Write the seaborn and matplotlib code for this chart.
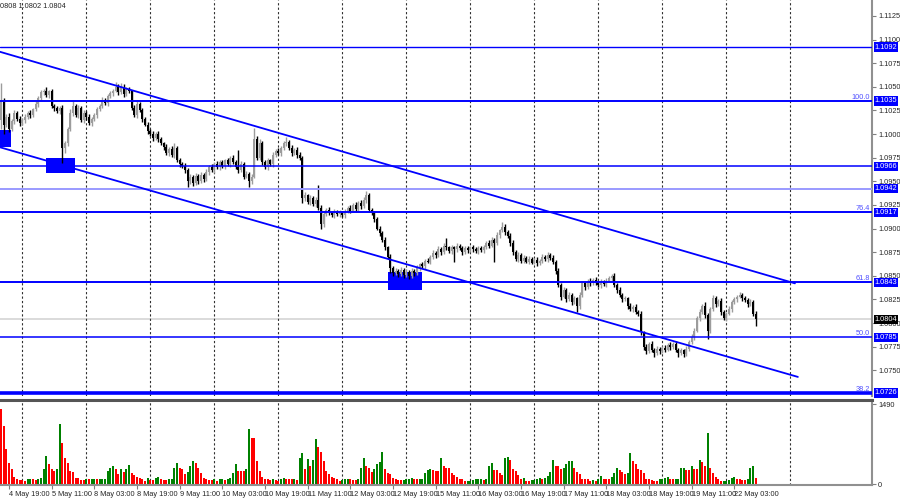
import numpy as np
import pandas as pd
import seaborn as sns
import matplotlib.pyplot as plt
from matplotlib.patches import Rectangle
from matplotlib.transforms import blended_transform_factory

# EURUSD H1, 4 May 16:00 .. 22 May 11:00 (one value per hourly bar)
first_open = 1.1015
closes = [
    1.1035, 1.1010, 1.1018, 1.1005, 1.1014, 1.1022, 1.1016, 1.1012,
    1.1015, 1.1018, 1.1022, 1.1020, 1.1026, 1.1032, 1.1038, 1.1044,
    1.1046, 1.1041, 1.1045, 1.1030, 1.1027, 1.1024, 1.1028, 1.0985,
    1.0990, 1.1005, 1.1022, 1.1030, 1.1020, 1.1028, 1.1015, 1.1022,
    1.1018, 1.1012, 1.1016, 1.1020, 1.1026, 1.1030, 1.1036, 1.1033,
    1.1040, 1.1043, 1.1046, 1.1050, 1.1044, 1.1050, 1.1042, 1.1048,
    1.1045, 1.1028, 1.1020, 1.1032, 1.1025, 1.1016, 1.1010, 1.1003,
    1.1000, 1.0996, 1.1000, 1.0995, 1.0990, 1.0986, 1.0980, 1.0984,
    1.0978, 1.0985, 1.0972, 1.0968, 1.0966, 1.0962, 1.0950, 1.0955,
    1.0948, 1.0956, 1.0950, 1.0957, 1.0952, 1.0960, 1.0965, 1.0962,
    1.0968, 1.0965, 1.0970, 1.0966, 1.0972, 1.0968, 1.0975, 1.0970,
    1.0965, 1.0962, 1.0968, 1.0955, 1.0958, 1.0950, 1.0955, 1.0995,
    1.0975, 1.0990, 1.0970, 1.0965, 1.0972, 1.0968, 1.0978, 1.0982,
    1.0980, 1.0985, 1.0990, 1.0992, 1.0985, 1.0980, 1.0983, 1.0978,
    1.0975, 1.0932, 1.0935, 1.0928, 1.0932, 1.0926, 1.0930, 1.0922,
    1.0905, 1.0915, 1.0920, 1.0917, 1.0914, 1.0918, 1.0915, 1.0917,
    1.0914, 1.0918, 1.0922, 1.0919, 1.0925, 1.0921, 1.0927, 1.0924,
    1.0930, 1.0935, 1.0920, 1.0916, 1.0910, 1.0900, 1.0895, 1.0888,
    1.0880, 1.0870, 1.0858, 1.0853, 1.0855, 1.0852, 1.0856, 1.0851,
    1.0854, 1.0850, 1.0855, 1.0853, 1.0858, 1.0862, 1.0860, 1.0866,
    1.0865, 1.0870, 1.0874, 1.0872, 1.0878, 1.0875, 1.0882, 1.0880,
    1.0876, 1.0880, 1.0878, 1.0882, 1.0879, 1.0875, 1.0879, 1.0877,
    1.0880, 1.0878, 1.0876, 1.0879, 1.0877, 1.0880, 1.0885, 1.0882,
    1.0888, 1.0885, 1.0893, 1.0898, 1.0902, 1.0896, 1.0892, 1.0885,
    1.0875, 1.0868, 1.0872, 1.0866, 1.0869, 1.0865, 1.0868, 1.0864,
    1.0867, 1.0863, 1.0866, 1.0870, 1.0868, 1.0872, 1.0869, 1.0865,
    1.0855, 1.0840, 1.0828, 1.0835, 1.0825, 1.0830, 1.0822, 1.0826,
    1.0818, 1.0830, 1.0842, 1.0838, 1.0845, 1.0842, 1.0846, 1.0843,
    1.0840, 1.0844, 1.0841, 1.0845, 1.0848, 1.0850, 1.0840, 1.0835,
    1.0830, 1.0825, 1.0826, 1.0818, 1.0815, 1.0817, 1.0812, 1.0810,
    1.0790, 1.0775, 1.0770, 1.0778, 1.0772, 1.0768, 1.0773, 1.0770,
    1.0774, 1.0772, 1.0777, 1.0775, 1.0778, 1.0772, 1.0768, 1.0771,
    1.0767, 1.0773, 1.0780, 1.0785, 1.0792, 1.0805, 1.0812, 1.0818,
    1.0808, 1.0792, 1.0815, 1.0826, 1.0820, 1.0823, 1.0812, 1.0805,
    1.0810, 1.0815, 1.0822, 1.0825, 1.0828, 1.0830, 1.0826, 1.0824,
    1.0820, 1.0822, 1.0810, 1.0804,
]
# upper / lower shadows in pips beyond the candle body
wick_up = [
    19, 3, 3, 4, 2, 3, 2, 3,   2, 3, 2, 3, 2, 3, 2, 3,
    2, 4, 2, 3, 2, 3, 2, 3,    3, 2, 4, 5, 2, 3, 2, 3,
    2, 3, 2, 2, 3, 2, 3, 2,    2, 3, 2, 5, 3, 4, 3, 2,
    2, 2, 3, 4, 2, 3, 2, 3,    2, 3, 2, 3, 2, 2, 3, 2,
    3, 5, 2, 3, 2, 3, 2, 3,    2, 3, 2, 3, 2, 3, 2, 3,
    2, 3, 2, 3, 2, 3, 2, 3,    3, 18, 3, 2, 3, 2, 3, 11,
    3, 5, 3, 2, 3, 2, 3, 2,    3, 2, 3, 5, 2, 3, 2, 3,
    3, 2, 4, 2, 3, 2, 3, 16,   3, 3, 2, 3, 2, 3, 2, 3,
    2, 3, 2, 3, 2, 3, 2, 3,    3, 5, 3, 2, 3, 2, 3, 2,
    3, 2, 3, 2, 3, 2, 3, 2,    3, 2, 3, 2, 3, 2, 3, 2,
    3, 2, 3, 2, 3, 2, 3, 8,    2, 3, 2, 3, 2, 3, 2, 3,
    2, 3, 2, 3, 2, 3, 2, 3,    3, 2, 3, 2, 5, 3, 2, 3,
    3, 2, 3, 2, 3, 2, 3, 2,    2, 3, 2, 3, 2, 3, 2, 3,
    2, 3, 2, 3, 2, 3, 2, 3,    2, 3, 2, 3, 2, 3, 2, 3,
    2, 3, 2, 3, 2, 2, 3, 2,    3, 2, 3, 2, 3, 2, 3, 2,
    3, 2, 3, 2, 3, 2, 3, 2,    2, 3, 2, 3, 2, 3, 2, 3,
    2, 3, 2, 3, 3, 2, 3, 2,    4, 3, 2, 4, 3, 2, 3, 2,
    2, 3, 2, 3, 2, 3, 2, 3,    2, 3, 2, 3,
]
wick_dn = [
    10, 10, 3, 3, 2, 3, 2, 3,  2, 3, 2, 3, 2, 2, 3, 2,
    3, 2, 3, 2, 3, 2, 3, 16,   5, 3, 2, 3, 2, 3, 2, 3,
    3, 2, 3, 2, 3, 2, 3, 2,    3, 2, 3, 2, 3, 2, 3, 2,
    2, 3, 2, 3, 2, 3, 2, 3,    2, 3, 2, 3, 2, 3, 2, 3,
    2, 3, 2, 3, 2, 3, 6, 3,    3, 2, 3, 2, 3, 2, 3, 2,
    3, 2, 3, 2, 3, 2, 3, 2,    2, 3, 2, 3, 2, 6, 3, 2,
    3, 2, 3, 2, 3, 2, 3, 2,    2, 3, 2, 3, 2, 3, 2, 3,
    2, 5, 3, 2, 3, 2, 3, 2,    5, 3, 2, 3, 2, 3, 2, 3,
    2, 3, 2, 3, 2, 3, 2, 3,    2, 3, 3, 2, 3, 2, 3, 2,
    3, 2, 5, 3, 2, 3, 2, 3,    2, 3, 2, 3, 2, 3, 2, 3,
    2, 3, 2, 3, 2, 3, 2, 3,    2, 3, 13, 3, 2, 3, 2, 3,
    2, 3, 2, 3, 2, 3, 2, 3,    2, 20, 2, 3, 2, 3, 2, 3,
    3, 2, 3, 2, 3, 2, 3, 2,    2, 3, 2, 3, 2, 3, 2, 3,
    3, 2, 4, 2, 3, 2, 3, 2,    6, 3, 2, 3, 2, 3, 2, 3,
    2, 3, 2, 3, 2, 3, 2, 3,    2, 3, 2, 3, 2, 3, 2, 3,
    3, 4, 3, 2, 3, 4, 2, 3,    2, 3, 2, 3, 2, 3, 4, 2,
    3, 2, 3, 2, 3, 2, 3, 2,    3, 9, 3, 2, 3, 2, 3, 2,
    3, 2, 3, 2, 3, 2, 3, 2,    3, 2, 3, 7,
]
volumes = [
    1395, 1085, 650, 390, 280, 143, 105, 80,
    80, 62, 93, 105, 105, 80, 93, 118,
    280, 515, 372, 290, 248, 280, 1116, 775,
    496, 390, 248, 230, 124, 124, 80, 80,
    93, 90, 95, 98, 96, 99, 100, 104,
    248, 310, 330, 280, 186, 280, 230, 280,
    353, 217, 167, 143, 124, 105, 62, 124,
    80, 78, 124, 130, 105, 80, 78, 93,
    100, 310, 403, 310, 280, 186, 230, 330,
    434, 403, 310, 217, 124, 105, 80, 78,
    93, 62, 93, 105, 80, 105, 124, 217,
    372, 248, 246, 244, 280, 1023, 850, 850,
    434, 248, 143, 105, 93, 80, 93, 80,
    62, 105, 124, 105, 93, 93, 100, 80,
    496, 577, 290, 477, 330, 453, 837, 700,
    600, 434, 248, 186, 143, 124, 105, 62,
    80, 93, 105, 105, 80, 80, 93, 310,
    496, 330, 310, 230, 280, 372, 415, 600,
    290, 205, 186, 124, 105, 80, 80, 85,
    90, 105, 124, 105, 93, 95, 105, 217,
    267, 291, 267, 248, 240, 496, 330, 310,
    310, 205, 167, 143, 105, 93, 62, 65,
    68, 80, 93, 95, 98, 80, 105, 330,
    390, 260, 255, 205, 175, 496, 508, 446,
    291, 248, 167, 105, 110, 62, 62, 80,
    85, 105, 108, 93, 124, 155, 230, 446,
    341, 330, 291, 300, 372, 422, 425, 298,
    230, 186, 105, 93, 92, 62, 75, 62,
    93, 155, 93, 90, 88, 143, 217, 298,
    267, 230, 186, 205, 577, 434, 372, 280,
    262, 205, 105, 93, 80, 62, 60, 93,
    105, 124, 126, 93, 90, 95, 98, 298,
    310, 270, 255, 330, 290, 280, 446, 415,
    341, 950, 310, 205, 143, 105, 62, 65,
    68, 70, 124, 126, 105, 93, 80, 78,
    105, 310, 330, 124,
]

# time axis: bar index of each day start and of each date label
day_starts = [8, 32, 56, 80, 104, 128, 152, 176, 200, 224, 248, 272, 296]
label_bars = [3, 19, 35, 51, 67, 83, 99, 115, 131, 147, 163, 179, 195, 211, 227, 243, 259, 275]
label_text = ["4 May 19:00", "5 May 11:00", "8 May 03:00", "8 May 19:00", "9 May 11:00",
              "10 May 03:00", "10 May 19:00", "11 May 11:00", "12 May 03:00", "12 May 19:00",
              "15 May 11:00", "16 May 03:00", "16 May 19:00", "17 May 11:00", "18 May 03:00",
              "18 May 19:00", "19 May 11:00", "22 May 03:00"]

# horizontal levels and fibo tags
levels = [1.1092, 1.1035, 1.0966, 1.0942, 1.0917, 1.0843, 1.0785, 1.0726]
fibo_levels = [1.1035, 1.0917, 1.0843, 1.0785, 1.0726]
fibo_tags = ["100.0", "76.4", "61.8", "50.0", "38.2"]
last_price = 1.0804

# descending channel (bar index, price)
channel_top = ([-0.4, 297.7], [1.1087, 1.0842])
channel_bottom = ([-0.4, 298.8], [1.0986, 1.0743])

# blue boxes: (bar start, bar end, price low, price high)
boxes = [(-0.4, 3.7, 1.0986, 1.1004), (16.9, 27.7, 1.0959, 1.0975), (145.0, 157.8, 1.0835, 1.0854)]

header = "0808 1.0802 1.0804"

# ---- frame
sns.set_style("white")
plt.rcParams['font.family'] = ['Liberation Sans', 'DejaVu Sans']

W, H = 900, 500
fig = plt.figure(figsize=(9, 5), dpi=100)
ax = fig.add_axes([0, (H - 396) / H, 872 / W, 396 / H])
axv = fig.add_axes([0, (H - 485) / H, 872 / W, 85 / H])

n = len(closes)
idx = np.arange(n)
df = pd.DataFrame({"bar": idx, "close": closes, "up": wick_up, "dn": wick_dn, "vol": volumes})
df["open"] = [first_open] + closes[:-1]
df["top"] = df[["open", "close"]].max(axis=1)
df["bot"] = df[["open", "close"]].min(axis=1)
df["high"] = df["top"] + df["up"] / 10000
df["low"] = df["bot"] - df["dn"] / 10000
bull = df["close"] >= df["open"]
candle_col = np.where(bull, "#9c9c9c", "#000000")

xlim = (-0.375, 326.6)
fs = 5.3

# ---- price panel
for b0, b1, p0, p1 in boxes:
    ax.add_patch(Rectangle((b0, p0), b1 - b0, p1 - p0, color="#0000ff", zorder=1, lw=0))

ax.axhline(last_price, color="#d4d4d4", lw=1.2, zorder=0.8)
for d in day_starts:
    ax.axvline(d, color="#303030", lw=0.8, ls=(0, (2, 2)), zorder=0.9)

ax.vlines(df["bar"], df["low"], df["high"], colors=candle_col, lw=1, zorder=2)
ax.bar(df["bar"], np.maximum(df["top"] - df["bot"], 0.00008), bottom=df["bot"],
       width=0.8, color=candle_col, lw=0, zorder=2.1)

level_style = {1.1092: (1.0, "#0000ff"), 1.1035: (1.4, "#0000ff"), 1.0966: (1.1, "#0000ff"),
               1.0942: (1.4, "#9a9aff"), 1.0917: (1.4, "#0000ff"), 1.0843: (1.4, "#0000ff"),
               1.0785: (1.1, "#0000ff"), 1.0726: (2.6, "#0000ff")}
for lv in levels:
    lw, c = level_style[lv]
    ax.axhline(lv, color=c, lw=lw, zorder=3)

for xs, ys in (channel_top, channel_bottom):
    sns.lineplot(x=xs, y=ys, ax=ax, color="#0000ff", lw=1.3, zorder=3)

tr = blended_transform_factory(ax.transAxes, ax.transData)
for lv, tag in zip(fibo_levels, fibo_tags):
    ax.text(0.998, lv + 0.00003, tag, transform=tr, ha="right", va="bottom",
            fontsize=fs, color="#5050ff", zorder=4)

ax.set_xlim(*xlim)
ax.set_ylim(1.07228, 1.11418)
ax.set_xticks([])
ax.yaxis.tick_right()
yt = np.arange(1.0750, 1.11251, 0.0025)
ax.set_yticks(yt)
ax.set_yticklabels([f"{v:.4f}" for v in yt])
ax.tick_params(axis="y", labelsize=fs, length=3, pad=1.5, color="#808080", right=True)
ax.set_xlabel("")
ax.set_ylabel("")
for s in ["top", "left", "bottom"]:
    ax.spines[s].set_visible(False)
ax.spines["right"].set_color("#909090")
ax.spines["right"].set_linewidth(1.5)

for lv in levels:
    ax.text(1.003, lv, f"{lv:.4f}", transform=tr, ha="left", va="center", fontsize=fs,
            color="white", zorder=5, clip_on=False,
            bbox=dict(boxstyle="square,pad=0.15", fc="#0000ff", ec="none"))
ax.text(1.003, last_price, f"{last_price:.4f}", transform=tr, ha="left", va="center",
        fontsize=fs, color="white", zorder=5, clip_on=False,
        bbox=dict(boxstyle="square,pad=0.15", fc="#000000", ec="none"))

fig.text(0.0, 1 - 7 / H, header, fontsize=fs, ha="left", va="center")

# ---- volume panel (green when volume rises over previous bar)
prev = [volumes[0]] + volumes[:-1]
df["vcol"] = np.where(np.array(volumes) > np.array(prev), "up", "down")
sns.barplot(data=df, x="bar", y="vol", hue="vcol", palette={"up": "#008000", "down": "#ff0000"},
            native_scale=True, dodge=False, width=0.8, errorbar=None, legend=False,
            saturation=1, linewidth=0, ax=axv, zorder=2)
for d in day_starts:
    axv.axvline(d, color="#303030", lw=0.8, ls=(0, (2, 2)), zorder=1)
axv.set_xlim(*xlim)
axv.set_ylim(-15, 1565)
axv.yaxis.tick_right()
axv.set_yticks([0, 1490])
axv.set_yticklabels(["0", "1490"])
axv.tick_params(axis="y", labelsize=fs, length=3, pad=1.5, color="#808080", right=True)
axv.set_xticks(label_bars)
axv.set_xticklabels(label_text)
for lbl in axv.get_xticklabels():
    lbl.set_ha("left")
axv.tick_params(axis="x", labelsize=5.3, length=3, pad=1.5, color="#808080", bottom=True)
axv.set_xlabel("")
axv.set_ylabel("")
axv.spines["left"].set_visible(False)
axv.spines["top"].set_color("#555555")
axv.spines["top"].set_linewidth(2.2)
axv.spines["right"].set_color("#909090")
axv.spines["right"].set_linewidth(1.5)
axv.spines["bottom"].set_color("#909090")
axv.spines["bottom"].set_linewidth(1.5)

fig.savefig("out.png", dpi=100, facecolor="white")
